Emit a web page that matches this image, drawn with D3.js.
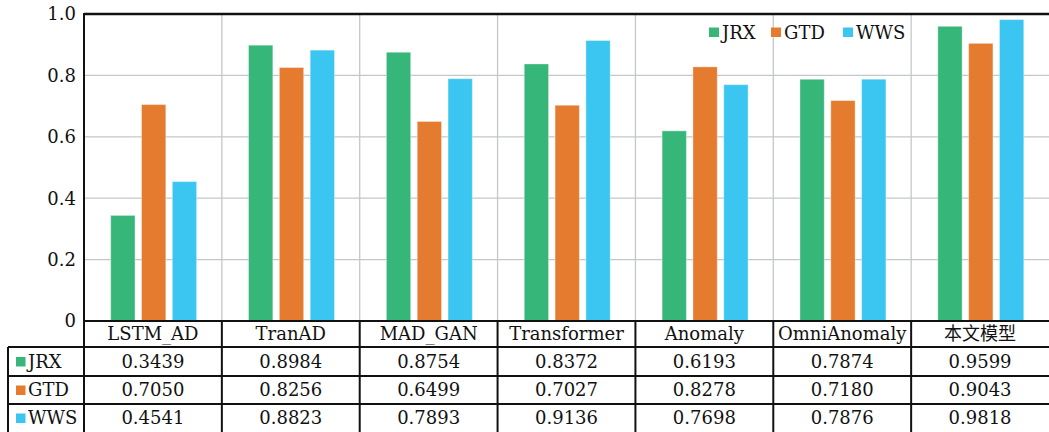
<!DOCTYPE html>
<html>
<head>
<meta charset="utf-8">
<script src="https://cdn.jsdelivr.net/npm/d3@7"></script>
<style>
  html, body { margin: 0; padding: 0; background: #fff; }
  svg { display: block; }
</style>
</head>
<body>
<svg id="chart" width="1049" height="432"></svg>
<script>
const categories = ["LSTM_AD", "TranAD", "MAD_GAN", "Transformer", "Anomaly", "OmniAnomaly", "本文模型"];
const seriesNames = ["JRX", "GTD", "WWS"];
const JRX = [0.3439, 0.8984, 0.8754, 0.8372, 0.6193, 0.7874, 0.9599];
const GTD = [0.7050, 0.8256, 0.6499, 0.7027, 0.8278, 0.7180, 0.9043];
const WWS = [0.4541, 0.8823, 0.7893, 0.9136, 0.7698, 0.7876, 0.9818];
const yTicks = [0, 0.2, 0.4, 0.6, 0.8, 1.0];
const yTickLabels = ["0", "0.2", "0.4", "0.6", "0.8", "1.0"];
const colors = ["#36b779", "#e57b2f", "#3bc6f1"];

(function () {
const seriesValues = [JRX, GTD, WWS];
const W = 1049, H = 432;
const pLeft = 84, pRight = 1049, pTop = 14, pBottom = 321;
const tableLeft = 8;
const rowEdges = [321, 347, 376, 404, 432];
const fontSize = 18;
const FONT = "'DejaVu Serif', 'Liberation Serif', serif";

const svg = d3.select("#chart").attr("font-family", FONT).attr("fill", "#111");
const x0 = d3.scaleBand().domain(categories).range([pLeft, pRight]).paddingInner(0).paddingOuter(0);
const bw = x0.bandwidth();
const x1 = d3.scaleBand().domain(seriesNames).range([bw * 0.1936, bw * 0.817]).paddingInner(0.212).paddingOuter(0);
const y = d3.scaleLinear().domain([0, 1]).range([pBottom, pTop]);

// grid lines
const grid = svg.append("g");
grid.selectAll("line.h").data(yTicks.filter(t => t > 0 && t < 1)).join("line")
  .attr("class", "h")
  .attr("x1", pLeft).attr("x2", pRight)
  .attr("y1", d => y(d)).attr("y2", d => y(d))
  .attr("stroke", "#c3c7cb").attr("stroke-width", 1.3);
grid.selectAll("line.v").data(categories.slice(1)).join("line")
  .attr("class", "v")
  .attr("x1", d => x0(d)).attr("x2", d => x0(d))
  .attr("y1", pTop).attr("y2", pBottom)
  .attr("stroke", "#c3c7cb").attr("stroke-width", 1.3);

// bars
const groups = svg.append("g").selectAll("g").data(categories).join("g")
  .attr("transform", d => `translate(${x0(d)},0)`);
groups.selectAll("rect").data((c, i) => seriesNames.map((s, k) => ({ s, k, v: seriesValues[k][i] }))).join("rect")
  .attr("x", d => x1(d.s))
  .attr("width", x1.bandwidth())
  .attr("y", d => y(d.v))
  .attr("height", d => y(0) - y(d.v))
  .attr("fill", d => colors[d.k])
  .attr("stroke", "rgba(255,255,255,0.35)")
  .attr("stroke-width", 1);

// y axis labels
svg.append("g").selectAll("text").data(yTicks).join("text")
  .attr("x", 76).attr("y", d => y(d))
  .attr("dy", "0.35em")
  .attr("text-anchor", "end")
  .attr("font-size", fontSize)
  .text((d, i) => yTickLabels[i]);

// legend
const legendX = [709, 771, 843];
const lg = svg.append("g").selectAll("g").data(seriesNames).join("g")
  .attr("transform", (d, i) => `translate(${legendX[i]},27.5)`);
lg.append("rect").attr("width", 10).attr("height", 9.5).attr("fill", (d, i) => colors[i]);
lg.append("text").attr("x", 13).attr("y", 5).attr("dy", "0.35em")
  .attr("font-size", fontSize).text(d => d);

// table header text
const rowMid = i => (rowEdges[i] + rowEdges[i + 1]) / 2;
svg.append("g").selectAll("text").data(categories).join("text")
  .attr("x", d => x0(d) + bw / 2).attr("y", rowMid(0))
  .attr("dy", "0.33em")
  .attr("text-anchor", "middle")
  .attr("font-size", fontSize)
  .attr("font-family", d => /[\u4e00-\u9fff]/.test(d) ? "'Noto Sans CJK SC', sans-serif" : FONT)
  .text(d => d);

// table rows
seriesNames.forEach((s, k) => {
  const ym = rowMid(k + 1);
  svg.append("rect").attr("x", 16).attr("y", ym - 4.5).attr("width", 9.5).attr("height", 9.5).attr("fill", colors[k]);
  svg.append("text").attr("x", 28).attr("y", ym).attr("dy", "0.35em")
    .attr("font-size", fontSize).text(s);
  svg.append("g").selectAll("text").data(categories).join("text")
    .attr("x", d => x0(d) + bw / 2).attr("y", ym).attr("dy", "0.35em")
    .attr("text-anchor", "middle")
    .attr("font-size", fontSize)
    .text((d, i) => seriesValues[k][i].toFixed(4));
});

// table / frame lines
const lines = svg.append("g").attr("stroke", "#111").attr("stroke-width", 2);
lines.append("line").attr("x1", pLeft).attr("x2", pRight).attr("y1", pTop).attr("y2", pTop).attr("stroke-width", 2.5);
lines.append("line").attr("x1", pLeft).attr("x2", pLeft).attr("y1", pTop - 1).attr("y2", H);
lines.append("line").attr("x1", pLeft).attr("x2", pRight).attr("y1", rowEdges[0]).attr("y2", rowEdges[0]);
[1, 2, 3].forEach(i => {
  lines.append("line").attr("x1", tableLeft).attr("x2", pRight).attr("y1", rowEdges[i]).attr("y2", rowEdges[i]);
});
lines.append("line").attr("x1", tableLeft).attr("x2", tableLeft).attr("y1", rowEdges[1]).attr("y2", H);
categories.slice(1).forEach(c => {
  lines.append("line").attr("x1", x0(c)).attr("x2", x0(c)).attr("y1", rowEdges[0]).attr("y2", H);
});
})();
</script>
</body>
</html>
